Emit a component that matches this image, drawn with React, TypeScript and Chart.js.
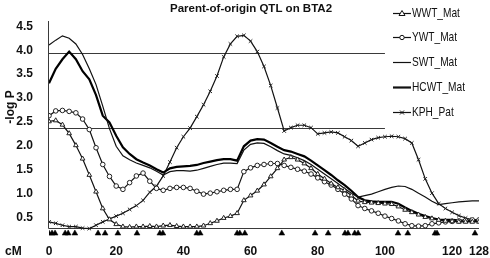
import { useEffect, useRef } from 'react';
import { Chart, registerables } from 'chart.js';
Chart.register(...registerables);

const cM = [0,2,4,6,8,10,12,14,16,18,20,22,24,26,28,30,32,34,36,38,40,42,44,46,48,50,52,54,56,58,60,62,64,66,68,70,72,74,76,78,80,82,84,86,88,90,92,94,96,98,100,102,104,106,108,110,112,114,116,118,120,122,124,126,128];

const WWT_Mat = [2.50,2.52,2.43,2.25,2.00,1.72,1.38,1.03,0.68,0.45,0.35,0.30,0.29,0.30,0.30,0.31,0.30,0.32,0.33,0.31,0.30,0.30,0.30,0.32,0.37,0.42,0.48,0.52,0.58,0.85,0.95,1.05,1.18,1.35,1.52,1.70,1.75,1.70,1.62,1.52,1.40,1.30,1.20,1.12,1.06,0.95,0.84,0.81,0.80,0.79,0.78,0.77,0.72,0.65,0.60,0.55,0.50,0.47,0.44,0.42,0.41,0.40,0.40,0.40,0.40];

const YWT_Mat = [2.62,2.72,2.73,2.71,2.68,2.55,2.33,1.95,1.60,1.35,1.15,1.08,1.22,1.36,1.42,1.25,1.10,1.06,1.10,1.12,1.12,1.10,1.04,0.98,1.00,1.03,1.06,1.08,1.08,1.45,1.53,1.58,1.60,1.62,1.62,1.58,1.54,1.50,1.46,1.40,1.32,1.24,1.17,1.08,0.98,0.88,0.74,0.68,0.63,0.58,0.52,0.47,0.42,0.36,0.32,0.31,0.32,0.36,0.38,0.40,0.41,0.42,0.43,0.44,0.44];

const SWT_Mat = [4.10,4.20,4.29,4.24,4.12,3.90,3.60,3.27,2.82,2.35,1.98,1.78,1.70,1.63,1.58,1.53,1.46,1.38,1.45,1.47,1.47,1.46,1.48,1.52,1.56,1.60,1.63,1.63,1.62,1.90,2.02,2.05,2.04,1.97,1.89,1.82,1.79,1.74,1.68,1.60,1.50,1.40,1.30,1.20,1.10,1.00,0.92,0.95,0.98,1.03,1.08,1.12,1.15,1.14,1.08,1.00,0.92,0.83,0.76,0.78,0.80,0.82,0.83,0.84,0.84];

const HCWT_Mat = [3.30,3.60,3.80,3.96,3.80,3.55,3.38,3.05,2.62,2.48,2.20,1.96,1.82,1.71,1.64,1.58,1.50,1.43,1.52,1.55,1.56,1.57,1.59,1.63,1.66,1.69,1.71,1.71,1.68,1.98,2.10,2.13,2.12,2.05,1.97,1.90,1.87,1.82,1.77,1.68,1.58,1.48,1.38,1.27,1.17,1.05,0.92,0.85,0.83,0.82,0.82,0.82,0.78,0.70,0.63,0.57,0.52,0.48,0.45,0.44,0.44,0.43,0.42,0.42,0.42];

const KPH_Pat = [0.40,0.37,0.33,0.30,0.30,0.27,0.26,0.33,0.40,0.46,0.52,0.58,0.66,0.74,0.85,1.02,1.15,1.36,1.65,1.95,2.18,2.36,2.60,2.85,3.13,3.45,3.85,4.12,4.28,4.30,4.18,3.96,3.65,3.25,2.78,2.30,2.37,2.42,2.42,2.37,2.24,2.26,2.28,2.26,2.18,2.10,1.98,2.05,2.12,2.16,2.18,2.19,2.18,2.14,2.05,1.70,1.30,1.00,0.78,0.68,0.60,0.53,0.48,0.45,0.43];

const markerPositions = [0,0.9,1.8,4.8,5.7,7.7,14.6,16.7,20.5,26.2,33,33.9,44,45,56,56.8,58.3,69.3,79.2,83.1,88.1,89,91,92,103.9,106.8,114.9,115.5,126.8];
const markerLevel = 0.16;

const xTicks = [0,20,40,60,80,100,120,128];
const yTicks = [0.5,1.0,1.5,2.0,2.5,3.0,3.5,4.0,4.5];
const thresholds = [3.94, 2.36];
const thresholdEnd = 100;
const baseline = 0.27;

const title = 'Parent-of-origin QTL on BTA2';
const yTitle = '-log P';
const xTitle = 'cM';

const FONT = 'Arial, "Liberation Sans", Helvetica, sans-serif';

const toXY = (arr: number[]) => cM.map((x, i) => ({ x, y: arr[i] }));

export default function App() {
  const ref = useRef<HTMLCanvasElement | null>(null);
  useEffect(() => {
    const canvas = ref.current;
    if (!canvas) return;
    const decor = {
      id: 'decor',
      beforeDatasetsDraw(chart: any) {
        const { ctx, scales } = chart;
        const xs = scales.x, ys = scales.y;
        ctx.save();
        ctx.strokeStyle = '#3a3a3a';
        ctx.lineWidth = 1;
        const x0 = Math.round(xs.getPixelForValue(0)) - 0.5;
        const yb = Math.round(ys.getPixelForValue(baseline)) + 0.5;
        ctx.beginPath();
        ctx.moveTo(x0, chart.chartArea.top);
        ctx.lineTo(x0, yb);
        ctx.lineTo(xs.getPixelForValue(128), yb);
        ctx.stroke();
        thresholds.forEach((t) => {
          const y = Math.round(ys.getPixelForValue(t)) + 0.5;
          ctx.beginPath();
          ctx.moveTo(x0, y);
          ctx.lineTo(xs.getPixelForValue(thresholdEnd), y);
          ctx.stroke();
        });
        ctx.restore();
      },
      afterDraw(chart: any) {
        const { ctx, scales } = chart;
        const xs = scales.x, ys = scales.y;
        ctx.save();
        ctx.fillStyle = '#111';
        // tick labels
        ctx.font = `bold 12px ${FONT}`;
        ctx.textBaseline = 'middle';
        ctx.textAlign = 'right';
        const left = chart.chartArea.left;
        yTicks.forEach((v) => {
          ctx.fillText(v.toFixed(1), left - 16, ys.getPixelForValue(v) + 0.5);
        });
        ctx.textAlign = 'center';
        xTicks.forEach((v) => {
          ctx.fillText(String(v), xs.getPixelForValue(v), 251.5);
        });
        ctx.textAlign = 'left';
        ctx.fillText(xTitle, 5, 251.5);
        // title
        ctx.font = `bold 11.5px ${FONT}`;
        ctx.textAlign = 'center';
        ctx.fillText(title, 251, 9);
        // y title
        ctx.save();
        ctx.translate(11, 107);
        ctx.rotate(-Math.PI / 2);
        ctx.font = `bold 12px ${FONT}`;
        ctx.fillText(yTitle, 0, 0);
        ctx.restore();

        // legend
        const rowsY = [13, 37, 62, 87, 112];
        chart.data.datasets.slice(0, 5).forEach((ds: any, i: number) => {
          const y = rowsY[i] + 0.5;
          const x1 = 393, x2 = 411, xm = 402;
          ctx.strokeStyle = '#111';
          ctx.lineWidth = ds.borderWidth;
          ctx.beginPath();
          ctx.moveTo(x1, y);
          ctx.lineTo(x2, y);
          ctx.stroke();
          ctx.lineWidth = 1;
          if (ds.pointStyle === 'triangle') {
            ctx.fillStyle = '#fff';
            ctx.beginPath();
            ctx.moveTo(xm, y - 3);
            ctx.lineTo(xm + 3, y + 2);
            ctx.lineTo(xm - 3, y + 2);
            ctx.closePath();
            ctx.fill();
            ctx.stroke();
          } else if (ds.pointStyle === 'circle' && ds.pointRadius > 0) {
            ctx.fillStyle = '#fff';
            ctx.beginPath();
            ctx.arc(xm, y, 2.2, 0, Math.PI * 2);
            ctx.fill();
            ctx.stroke();
          } else if (ds.pointStyle === 'crossRot') {
            ctx.beginPath();
            ctx.moveTo(xm - 2, y - 2);
            ctx.lineTo(xm + 2, y + 2);
            ctx.moveTo(xm + 2, y - 2);
            ctx.lineTo(xm - 2, y + 2);
            ctx.stroke();
          }
          ctx.save();
          ctx.fillStyle = '#111';
          ctx.font = `13px ${FONT}`;
          ctx.textAlign = 'left';
          ctx.textBaseline = 'middle';
          ctx.translate(412, y);
          ctx.scale(0.78, 1);
          ctx.fillText(ds.label, 0, 0);
          ctx.restore();
        });
        ctx.restore();
      },
    };

    const chart = new Chart(canvas, {
      type: 'line',
      data: {
        datasets: [
          { label: 'WWT_Mat', data: toXY(WWT_Mat), borderColor: '#111', borderWidth: 1.2, pointStyle: 'triangle', pointRadius: 2.7, pointBorderColor: '#222', pointBackgroundColor: '#fff', pointBorderWidth: 1, tension: 0 },
          { label: 'YWT_Mat', data: toXY(YWT_Mat), borderColor: '#111', borderWidth: 1.2, pointStyle: 'circle', pointRadius: 2.3, pointBorderColor: '#222', pointBackgroundColor: '#fff', pointBorderWidth: 1, tension: 0 },
          { label: 'SWT_Mat', data: toXY(SWT_Mat), borderColor: '#111', borderWidth: 1.2, pointStyle: 'circle', pointRadius: 0, tension: 0 },
          { label: 'HCWT_Mat', data: toXY(HCWT_Mat), borderColor: '#000', borderWidth: 2.2, pointStyle: 'circle', pointRadius: 0, tension: 0 },
          { label: 'KPH_Pat', data: toXY(KPH_Pat), borderColor: '#111', borderWidth: 1.2, pointStyle: 'crossRot', pointRadius: 2.5, pointBorderColor: '#222', pointBorderWidth: 1, tension: 0 },
          { label: 'markers', data: markerPositions.map((x) => ({ x, y: markerLevel })), showLine: false, pointStyle: 'triangle', pointRadius: 3.4, pointBackgroundColor: '#000', pointBorderColor: '#000', pointBorderWidth: 0.5 },
        ],
      },
      options: {
        animation: false,
        responsive: false,
        maintainAspectRatio: false,
        layout: { padding: { top: 21, right: 11, left: 49, bottom: 17 } },
        plugins: { legend: { display: false }, tooltip: { enabled: false }, title: { display: false } },
        scales: {
          x: { type: 'linear', min: 0, max: 128, display: false },
          y: { type: 'linear', min: 0, max: 4.6, display: false },
        },
      },
      plugins: [decor],
    } as any);
    return () => chart.destroy();
  }, []);
  return (
    <div style={{ position: 'fixed', left: 0, top: 0, width: 490, height: 258, background: '#fff' }}>
      <canvas ref={ref} width={490} height={258} style={{ display: 'block', width: 490, height: 258 }} />
    </div>
  );
}
